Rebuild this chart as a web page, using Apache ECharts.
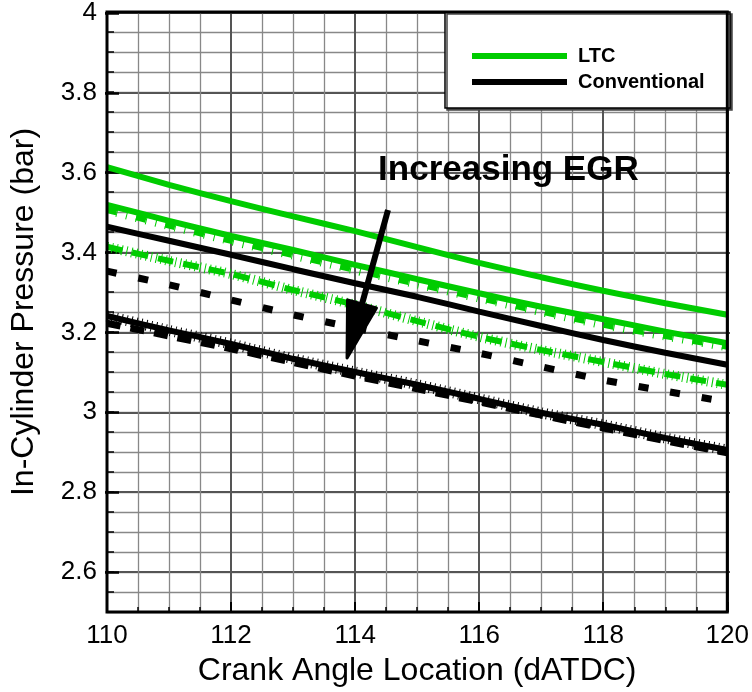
<!DOCTYPE html>
<html>
<head>
<meta charset="utf-8">
<script src="https://cdn.jsdelivr.net/npm/echarts@6/dist/echarts.min.js"></script>
<style>
  html, body { margin: 0; padding: 0; background: #fff; }
  #c { width: 752px; height: 692px; }
</style>
</head>
<body>
<div id="c"></div>
<script>
// Crank angle samples (dATDC)
const crankAngle = [110, 111, 112, 113, 114, 115, 116, 117, 118, 119, 120];

// LTC cylinder pressure traces (bar), EGR increasing from first to last
const ltcEgrLow   = [3.612, 3.568, 3.527, 3.489, 3.452, 3.412, 3.373, 3.337, 3.303, 3.272, 3.243];
const ltcEgrMid   = [3.518, 3.478, 3.440, 3.405, 3.368, 3.332, 3.297, 3.263, 3.232, 3.201, 3.172];
const ltcEgrMidB  = [3.505, 3.466, 3.428, 3.392, 3.355, 3.320, 3.285, 3.251, 3.218, 3.190, 3.163];
const ltcEgrHigh  = [3.413, 3.378, 3.345, 3.305, 3.268, 3.227, 3.188, 3.155, 3.125, 3.095, 3.068];

// Conventional combustion cylinder pressure traces (bar)
const convEgrLow   = [3.463, 3.428, 3.393, 3.357, 3.322, 3.288, 3.251, 3.215, 3.180, 3.148, 3.118];
const convEgrMid   = [3.352, 3.318, 3.280, 3.243, 3.210, 3.178, 3.147, 3.113, 3.080, 3.052, 3.025];
const convEgrHigh  = [3.240, 3.204, 3.170, 3.133, 3.100, 3.068, 3.033, 2.998, 2.968, 2.935, 2.905];
const convEgrHighB = [3.222, 3.190, 3.158, 3.124, 3.090, 3.058, 3.025, 2.992, 2.960, 2.928, 2.898];

// Axis ranges
const xRange = [110, 120];
const yRange = [2.5, 4.0];
const yMajorFrom = 2.6;

// Annotation: "Increasing EGR" arrow, in data units
const egrArrowFrom = [114.53, 3.505];
const egrArrowTo = [113.87, 3.135];
const egrLabelAt = [114.37, 3.605];
const egrLabel = 'Increasing EGR';

const GREEN = '#00cc00';
const BLACK = '#000000';
const FONT = '"Liberation Sans", Arial, Helvetica, sans-serif';

const chart = echarts.init(document.getElementById('c'), null, { renderer: 'canvas' });

function pts(ys) { return crankAngle.map((x, i) => [x, ys[i]]); }

function trace(name, ys, color, width, dash, z) {
  return {
    type: 'line', name: name, data: pts(ys),
    xAxisIndex: 0, yAxisIndex: 0,
    showSymbol: false, symbol: 'none', smooth: 0.2,
    z: z || 2, silent: true, animation: false,
    lineStyle: { color: color, width: width, type: dash || 'solid', cap: 'butt' },
    itemStyle: { color: color },
    emphasis: { disabled: true }
  };
}

const series = [
  trace('LTC', ltcEgrLow, GREEN, 6),
  trace('LTC', ltcEgrMid, GREEN, 6),
  trace('LTC', ltcEgrMidB, GREEN, 6, [10, 20]),
  trace('LTC', ltcEgrMidB, GREEN, 9, [1, 9]),
  trace('LTC', ltcEgrHigh, GREEN, 6, [16, 10]),
  trace('LTC', ltcEgrHigh, GREEN, 10, [1, 4]),
  trace('Conventional', convEgrLow, BLACK, 6),
  trace('Conventional', convEgrMid, BLACK, 7, [10, 22]),
  trace('Conventional', convEgrHigh, BLACK, 6),
  trace('Conventional', convEgrHigh, BLACK, 11, [1, 4]),
  trace('Conventional', convEgrHighB, BLACK, 7, [14, 10])
];

const option = {
  animation: false,
  backgroundColor: '#fff',
  textStyle: { fontFamily: FONT },
  grid: [
    { left: 105, right: 22, top: 12, bottom: 80 },
    { left: 105, right: 22, top: 12, bottom: 120 }
  ],
  xAxis: [
    {
      gridIndex: 0, type: 'value', min: xRange[0], max: xRange[1], interval: 2,
      axisLine: { show: false },
      axisTick: { show: true, inside: true, length: 10, lineStyle: { color: '#000', width: 2 } },
      minorTick: { show: true, splitNumber: 4, length: 5, lineStyle: { color: '#000', width: 1.5 } },
      splitLine: { show: true, lineStyle: { color: '#555', width: 2 } },
      minorSplitLine: { show: true, lineStyle: { color: '#888', width: 1.3 } },
      axisLabel: { fontSize: 26, color: '#000', fontFamily: FONT, margin: 11 },
      name: 'Crank Angle Location (dATDC)', nameLocation: 'middle', nameGap: 43,
      nameTextStyle: { fontSize: 32, color: '#000', fontFamily: FONT }
    },
    { gridIndex: 1, type: 'value', min: xRange[0], max: xRange[1], show: false }
  ],
  yAxis: [
    {
      gridIndex: 0, type: 'value', min: yRange[0], max: yRange[1], interval: 0.05,
      axisLine: { show: false },
      axisTick: { show: true, inside: true, length: 7, lineStyle: { color: '#000', width: 1.5 } },
      splitLine: { show: true, lineStyle: { color: '#888', width: 1.3 } },
      axisLabel: { show: false },
      name: 'In-Cylinder Pressure (bar)', nameLocation: 'middle', nameGap: 67,
      nameTextStyle: { fontSize: 32, color: '#000', fontFamily: FONT }
    },
    {
      gridIndex: 1, type: 'value', min: yMajorFrom, max: yRange[1], interval: 0.2,
      axisLine: { show: false },
      axisTick: { show: true, inside: true, length: 14, lineStyle: { color: '#000', width: 2.5 } },
      splitLine: { show: true, lineStyle: { color: '#555', width: 2 } },
      axisLabel: {
        fontSize: 26, color: '#000', fontFamily: FONT, margin: 8,
        formatter: v => String(Math.round(v * 10) / 10)
      }
    }
  ],
  legend: {
    orient: 'vertical', left: 467, top: 41, z: 6,
    itemWidth: 95, itemHeight: 6, itemGap: 6,
    icon: 'rect', selectedMode: false,
    textStyle: { fontSize: 20, fontWeight: 'bold', color: '#000', fontFamily: FONT, lineHeight: 20, padding: [0, 0, 0, 6] },
    data: [
      { name: 'LTC', itemStyle: { color: GREEN } },
      { name: 'Conventional', itemStyle: { color: BLACK } }
    ]
  },
  series: series
};

chart.setOption(option);

// Frame, legend box and EGR annotation, placed from data coordinates
const tl = chart.convertToPixel({ gridIndex: 0 }, [xRange[0], yRange[1]]);
const br = chart.convertToPixel({ gridIndex: 0 }, [xRange[1], yRange[0]]);
const p0 = chart.convertToPixel({ gridIndex: 0 }, egrArrowFrom);
const p1 = chart.convertToPixel({ gridIndex: 0 }, egrArrowTo);
const pl = chart.convertToPixel({ gridIndex: 0 }, egrLabelAt);

const dx = p1[0] - p0[0], dy = p1[1] - p0[1];
const len = Math.sqrt(dx * dx + dy * dy);
const ux = dx / len, uy = dy / len;
const headLen = 56, headHalf = 15;
const base = [p1[0] - ux * headLen, p1[1] - uy * headLen];
const head = [
  [p1[0], p1[1]],
  [base[0] - uy * headHalf, base[1] + ux * headHalf],
  [base[0] + uy * headHalf, base[1] - ux * headHalf]
];

chart.setOption({
  graphic: [
    {
      type: 'rect', z: 3, silent: true,
      shape: { x: 445, y: tl[1], width: 285, height: 96 },
      style: { fill: '#fff', stroke: '#000', lineWidth: 1.5, shadowColor: '#444', shadowOffsetX: 2, shadowOffsetY: 2, shadowBlur: 0 }
    },
    {
      type: 'rect', z: 5, silent: true,
      shape: { x: tl[0], y: tl[1], width: br[0] - tl[0], height: br[1] - tl[1] },
      style: { fill: null, stroke: '#000', lineWidth: 3 }
    },
    {
      type: 'line', z: 5, silent: true,
      shape: { x1: p0[0], y1: p0[1], x2: base[0] + ux * 4, y2: base[1] + uy * 4 },
      style: { stroke: '#000', lineWidth: 6 }
    },
    {
      type: 'polygon', z: 5, silent: true,
      shape: { points: head },
      style: { fill: '#000', stroke: '#000', lineWidth: 3, lineJoin: 'round' }
    },
    {
      type: 'text', z: 5, silent: true,
      x: pl[0], y: pl[1],
      style: { text: egrLabel, font: 'bold 35px ' + FONT, fill: '#000', textAlign: 'left', textVerticalAlign: 'middle' }
    }
  ]
});
</script>
</body>
</html>
